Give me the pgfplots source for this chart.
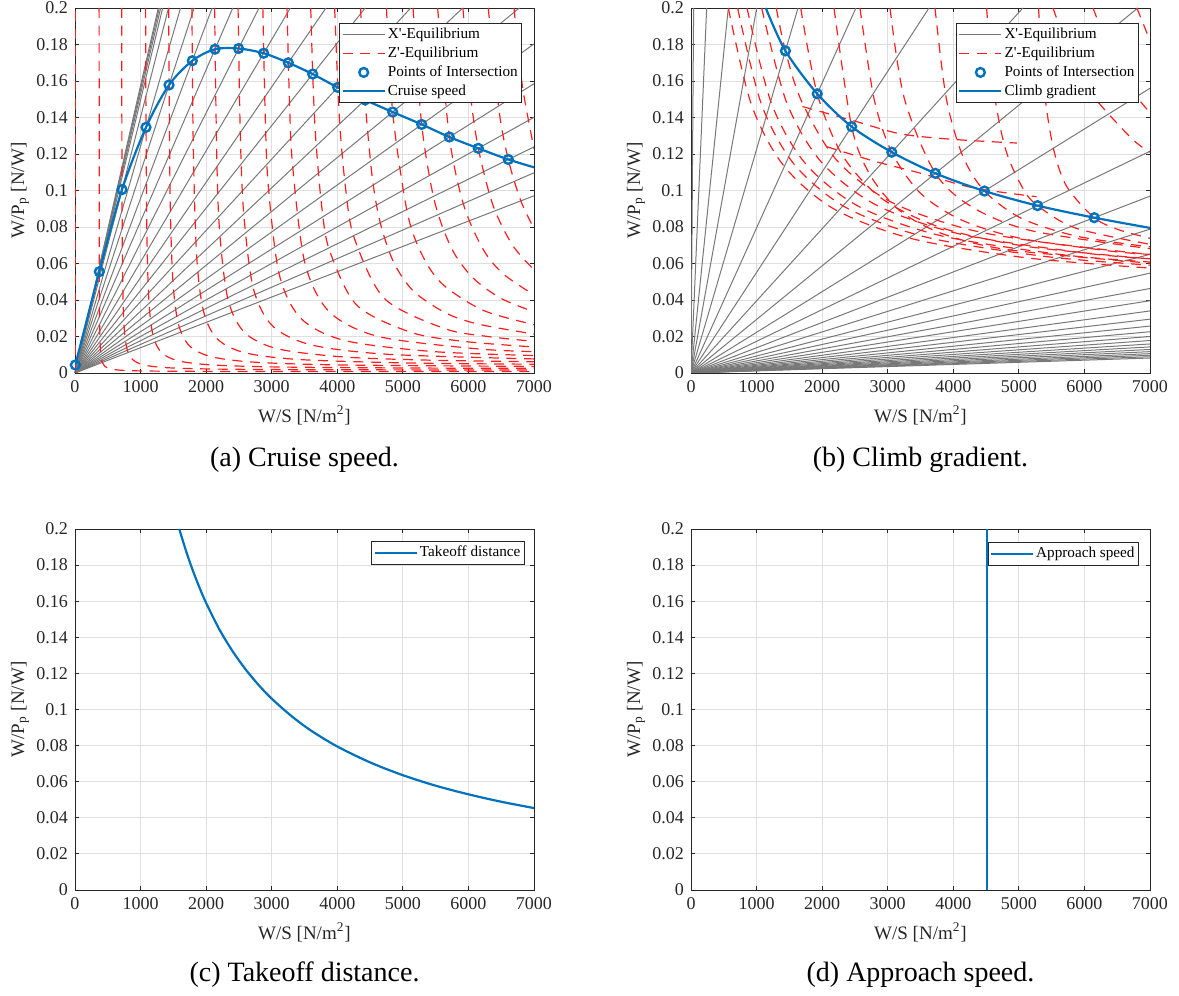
\documentclass[border=0pt]{standalone}
\usepackage{fontspec}
\setmainfont{Liberation Serif}
\usepackage{pgfplots}
\pgfplotsset{compat=1.18}

\definecolor{mblue}{RGB}{0,114,189}
\definecolor{axgray}{RGB}{38,38,38}
\definecolor{gridc}{RGB}{223,223,223}
\definecolor{xeq}{RGB}{120,120,120}
\definecolor{zeq}{RGB}{255,30,30}

\pgfplotsset{
  matlab/.style={
    scale only axis, width=229.5pt, anchor=south west,
    xmin=0, xmax=7000, ymin=0, ymax=0.2,
    xtick={0,1000,2000,3000,4000,5000,6000,7000},
    ytick={0,0.02,0.04,0.06,0.08,0.1,0.12,0.14,0.16,0.18,0.2},
    grid=major, major grid style={gridc, line width=0.45pt},
    axis line style={axgray, line width=0.45pt},
    tick style={axgray, line width=0.45pt}, major tick length=2.2pt,
    tick align=inside, xtick pos=both, ytick pos=both,
    ticklabel style={font=\fontsize{9}{10}\selectfont, text=axgray},
    /pgf/number format/assume math mode=true,
    xticklabel style={/pgf/number format/1000 sep={}},
    yticklabel style={/pgf/number format/fixed, /pgf/number format/precision=2},
    scaled ticks=false,
    label style={font=\fontsize{9.5}{11}\selectfont, text=axgray},
    xlabel={W/S [N/m\textsuperscript{2}]},
    ylabel={W/P\textsubscript{p} [N/W]},
    ylabel style={at={(axis description cs:-0.12,0.5)}, anchor=center},
    legend style={font=\fontsize{7.6}{9}\selectfont, draw=axgray, line width=0.45pt,
      fill=white, anchor=north east, inner xsep=1pt, inner ysep=1pt,
      nodes={inner xsep=1pt, inner ysep=1.1pt, text height=5.6pt, text depth=1.6pt}},
    legend cell align=left,
    legend image code/.code={\draw[mark repeat=2,mark phase=2,##1] plot coordinates {(0pt,0pt) (10.5pt,0pt) (21pt,0pt)};},
  },
  xe/.style={xeq, line width=0.5pt, forget plot},
  ze/.style={zeq, line width=0.6pt, dash pattern=on 5pt off 3.8pt, forget plot},
  pts/.style={mblue, only marks, mark=o, mark size=2.2pt, line width=1.2pt, forget plot},
  bl/.style={mblue, line width=1.1pt, forget plot},
}

\begin{document}
\begin{tikzpicture}
\useasboundingbox (0,0) rectangle (589.5pt,498pt);

% ---------------- (a) cruise speed ----------------
\begin{axis}[matlab, height=182.5pt, at={(37.5pt,311.5pt)},
  legend style={at={(rel axis cs:0.9745,0.959)}}]
% X'-equilibrium lines through the origin
\addplot[xe] coordinates {(0,0) (1270,0.2)};
\addplot[xe] coordinates {(0,0) (1286,0.2)};
\addplot[xe] coordinates {(0,0) (1307,0.2)};
\addplot[xe] coordinates {(0,0) (1337,0.2)};
\addplot[xe] coordinates {(0,0) (1426.8,0.2)};
\addplot[xe] coordinates {(0,0) (1609.2,0.2)};
\addplot[xe] coordinates {(0,0) (1817.5,0.2)};
\addplot[xe] coordinates {(0,0) (2091.2,0.2)};
\addplot[xe] coordinates {(0,0) (2407,0.2)};
\addplot[xe] coordinates {(0,0) (2806.5,0.2)};
\addplot[xe] coordinates {(0,0) (3284.2,0.2)};
\addplot[xe] coordinates {(0,0) (3827,0.2)};
\addplot[xe] coordinates {(0,0) (4426,0.2)};
\addplot[xe] coordinates {(0,0) (5119.5,0.2)};
\addplot[xe] coordinates {(0,0) (5913,0.2)};
\addplot[xe] coordinates {(0,0) (6776,0.2)};
\addplot[xe] coordinates {(0,0) (7000,0.1803)};
\addplot[xe] coordinates {(0,0) (7000,0.1585)};
\addplot[xe] coordinates {(0,0) (7000,0.1401)};
\addplot[xe] coordinates {(0,0) (7000,0.1239)};
\addplot[xe] coordinates {(0,0) (7000,0.1097)};
\addplot[xe] coordinates {(0,0) (7000,0.0971)};
% Z'-equilibrium curves
\addplot[ze] coordinates {(12,0) (12,0.2)};
\addplot[ze, smooth] coordinates {(367.5,0.2) (371.6,0.0499) (376.9,0.02536) (387.6,0.01304) (409,0.00688) (451.9,0.0038) (537,0.00226) (709,0.00149) (1052,0.0011) (1737,0.00091) (3108,0.00082) (7000,0.00076)};
\addplot[ze, smooth] coordinates {(711.8,0.2) (717.2,0.0984) (727.7,0.0499) (748.8,0.02561) (790.9,0.01353) (875,0.00749) (1043.7,0.00446) (1379.7,0.00295) (2052.7,0.0022) (3399.7,0.00182) (7000,0.0016)};
\addplot[ze, smooth] coordinates {(1077.2,0.2) (1081.4,0.1478) (1097.2,0.075) (1128.9,0.03852) (1192.2,0.02034) (1318.7,0.01125) (1571.6,0.00671) (2077.6,0.00443) (3090.6,0.0033) (5115.6,0.00273) (7000,0.00255)};
\addplot[ze, smooth] coordinates {(1428.4,0.2) (1449.8,0.0994) (1491.8,0.05115) (1575.8,0.02701) (1743.8,0.01495) (2079.8,0.00891) (2751.8,0.0059) (4095.8,0.00439) (7000,0.0036)};
\addplot[ze, smooth] coordinates {(1783.5,0.2) (1803.8,0.1239) (1856.4,0.06365) (1961.4,0.03362) (2170.4,0.01865) (2589.4,0.01112) (3427.4,0.00736) (5103.4,0.00548) (7000,0.0048)};
\addplot[ze, smooth] coordinates {(2129,0.2) (2163,0.1168) (2208,0.07631) (2333,0.04032) (2583,0.02232) (3083,0.01332) (4083,0.00882) (5383,0.00705) (7000,0.00615)};
\addplot[ze, smooth] coordinates {(2487,0.2) (2519.3,0.1336) (2570.3,0.08872) (2716.3,0.04688) (3007.3,0.026) (3590.3,0.01552) (4757.3,0.01028) (7000,0.00771)};
\addplot[ze, smooth] coordinates {(2864.9,0.2) (2902.4,0.1393) (2949.4,0.10173) (3116.4,0.05375) (3450.4,0.02975) (4118.4,0.01776) (5454.4,0.01176) (7000,0.00956)};
\addplot[ze, smooth] coordinates {(3233.8,0.2) (3269,0.1513) (3317,0.11433) (3505,0.06041) (3880,0.03348) (4632,0.01997) (6135,0.01323) (7000,0.01172)};
\addplot[ze, smooth] coordinates {(3595,0.2) (3630.6,0.1584) (3673.6,0.1272) (3765.6,0.0904) (3882.6,0.06704) (4298.6,0.03715) (5132.6,0.02217) (5965.6,0.01718) (7000,0.01426)};
\addplot[ze, smooth] coordinates {(3960.1,0.2) (4032.3,0.13946) (4133.3,0.0992) (4261.3,0.07369) (4719.3,0.0408) (5634.3,0.02437) (6303.3,0.01997) (7000,0.01734)};
\addplot[ze, smooth] coordinates {(4355.8,0.2) (4417.6,0.15267) (4537.6,0.106) (4667.6,0.08066) (4867.6,0.0601) (5168.6,0.04461) (5667.6,0.03265) (6169.6,0.02663) (7000,0.02135)};
\addplot[ze, smooth] coordinates {(4750.2,0.2) (4847.9,0.1418) (5070.9,0.08741) (5307.9,0.0637) (5613.9,0.04839) (6227.9,0.03429) (7000,0.0265)};
\addplot[ze, smooth] coordinates {(5155.5,0.2) (5286.7,0.13629) (5481.7,0.09429) (5745.7,0.0681) (6067.7,0.05219) (6495.7,0.04092) (7000,0.03353)};
\addplot[ze, smooth] coordinates {(5530.8,0.2) (5709,0.1293) (5932.1,0.09152) (6232.1,0.06731) (6532.1,0.05427) (7000,0.04276)};
\addplot[ze, smooth] coordinates {(5916.2,0.2) (6025.4,0.1543) (6151,0.1231) (6375.4,0.09181) (6675.4,0.06991) (7000,0.05661)};
\addplot[ze, smooth] coordinates {(6302.4,0.2) (6466.7,0.1439) (6608,0.117) (6796.7,0.09454) (7000,0.07909)};
\addplot[ze, smooth] coordinates {(6695.9,0.2) (6762,0.1753) (6842,0.1529) (7000,0.1229)};
% intersection points and the resulting cruise speed line
\addplot[pts] coordinates {(5,0.0044) (371,0.0555) (717,0.1005) (1083,0.1346) (1434,0.1578) (1789,0.1711) (2135,0.1774) (2495,0.1778) (2877,0.1752) (3253,0.17) (3625,0.1638) (4006,0.1565) (4423,0.1496) (4845,0.143) (5287,0.1362) (5709,0.1293) (6151,0.1231) (6608,0.117)};
\addplot[bl, smooth] coordinates {(5,0.0044) (371,0.0555) (717,0.1005) (1083,0.1346) (1434,0.1578) (1789,0.1711) (2135,0.1774) (2495,0.1778) (2877,0.1752) (3253,0.17) (3625,0.1638) (4006,0.1565) (4423,0.1496) (4845,0.143) (5287,0.1362) (5709,0.1293) (6151,0.1231) (6608,0.117) (7000,0.1127)};
\addlegendimage{xeq, line width=0.5pt}
\addlegendentry{X\textquotesingle-Equilibrium}
\addlegendimage{zeq, line width=0.6pt, dash pattern=on 5pt off 3.8pt}
\addlegendentry{Z\textquotesingle-Equilibrium}
\addlegendimage{mblue, only marks, mark=o, mark size=2.2pt, line width=1.2pt}
\addlegendentry{Points of Intersection}
\addlegendimage{mblue, line width=1.1pt}
\addlegendentry{Cruise speed}
\end{axis}

% ---------------- (b) climb gradient ----------------
\begin{axis}[matlab, height=182.5pt, at={(345.5pt,311.5pt)},
  legend style={at={(rel axis cs:0.976,0.959)}}]
\addplot[xe] coordinates {(0,0) (40,0.2)};
\addplot[xe] coordinates {(0,0) (239,0.2)};
\addplot[xe] coordinates {(0,0) (569,0.2)};
\addplot[xe] coordinates {(0,0) (1002,0.2)};
\addplot[xe] coordinates {(0,0) (1632,0.2)};
\addplot[xe] coordinates {(0,0) (2516,0.2)};
\addplot[xe] coordinates {(0,0) (3630,0.2)};
\addplot[xe] coordinates {(0,0) (5061,0.2)};
\addplot[xe] coordinates {(0,0) (6814,0.2)};
\addplot[xe] coordinates {(0,0) (7000,0.156)};
\addplot[xe] coordinates {(0,0) (7000,0.1215)};
\addplot[xe] coordinates {(0,0) (7000,0.0969)};
\addplot[xe] coordinates {(0,0) (7000,0.0788)};
\addplot[xe] coordinates {(0,0) (7000,0.065)};
\addplot[xe] coordinates {(0,0) (7000,0.0547)};
\addplot[xe] coordinates {(0,0) (7000,0.0463)};
\addplot[xe] coordinates {(0,0) (7000,0.0396)};
\addplot[xe] coordinates {(0,0) (7000,0.034)};
\addplot[xe] coordinates {(0,0) (7000,0.0295)};
\addplot[xe] coordinates {(0,0) (7000,0.0257)};
\addplot[xe] coordinates {(0,0) (7000,0.0226)};
\addplot[xe] coordinates {(0,0) (7000,0.02)};
\addplot[xe] coordinates {(0,0) (7000,0.0178)};
\addplot[xe] coordinates {(0,0) (7000,0.0159)};
\addplot[xe] coordinates {(0,0) (7000,0.0143)};
\addplot[xe] coordinates {(0,0) (7000,0.0129)};
\addplot[xe] coordinates {(0,0) (7000,0.0117)};
\addplot[xe] coordinates {(0,0) (7000,0.0106)};
\addplot[xe] coordinates {(0,0) (7000,0.0097)};
\addplot[xe] coordinates {(0,0) (7000,0.0089)};
\addplot[xe] coordinates {(0,0) (7000,0.0082)};
% Z'-equilibrium curves
\addplot[ze, smooth] coordinates {(569,0.2) (919,0.1473) (1409,0.1138) (2179,0.0899) (3369,0.0736) (5119,0.0631) (7000,0.0575)};
\addplot[ze, smooth] coordinates {(711,0.2) (1071,0.1476) (1575,0.1143) (2367,0.0906) (3591,0.0744) (5391,0.0639) (7000,0.0591)};
\addplot[ze, smooth] coordinates {(854,0.2) (1224,0.148) (1742,0.1149) (2556,0.0913) (3814,0.0752) (5664,0.0648) (7000,0.0608)};
\addplot[ze, smooth] coordinates {(1078,0.2) (1458,0.1483) (1990,0.1155) (2826,0.092) (4118,0.076) (6018,0.0657) (7000,0.0626)};
\addplot[ze, smooth] coordinates {(1300,0.2) (1440,0.1765) (1686.7,0.1489) (2226.7,0.1164) (3076.7,0.0932) (4396.7,0.0773) (6326.7,0.0671) (7000,0.065)};
\addplot[ze, smooth] coordinates {(1673,0.2) (1925,0.153) (2310,0.1193) (2910,0.0956) (3810,0.0797) (5110,0.0694) (7000,0.0625)};
\addplot[ze, smooth] coordinates {(2181,0.2) (2450,0.135) (2729,0.1087) (3179,0.0891) (3829,0.0764) (4829,0.0676) (7000,0.0602)};
\addplot[ze, smooth] coordinates {(2577,0.2) (2793.4,0.15) (3062,0.121) (3503.4,0.0984) (4153.4,0.0834) (5153.4,0.0729) (7000,0.0649)};
\addplot[ze, smooth] coordinates {(3035,0.2) (3252,0.1506) (3727,0.1094) (4312,0.0904) (5212,0.0778) (7000,0.0681)};
\addplot[ze, smooth] coordinates {(3721,0.2) (3892.5,0.1506) (4142.5,0.1191) (4475,0.0997) (5042.5,0.0847) (5892.5,0.0749) (7000,0.0691)};
\addplot[ze, smooth] coordinates {(4507.8,0.2) (4626,0.1533) (4806,0.1215) (5066,0.1009) (5285,0.0917) (5866,0.0794) (7000,0.0705)};
\addplot[ze, smooth] coordinates {(5300,0.2) (5394.3,0.1529) (5534.3,0.1219) (5734.3,0.1019) (6150,0.0851) (6514.3,0.0786) (7000,0.0738)};
\addplot[ze, smooth] coordinates {(5520,0.2) (5820,0.1714) (6120,0.1523) (6720,0.1285) (7000,0.121)};
\addplot[ze, smooth] coordinates {(6130,0.2) (6455,0.1714) (6780,0.1523) (7000,0.1427)};
\addplot[ze] coordinates {(6800,0.2) (7000,0.1821)};
\addplot[ze, smooth] coordinates {(1700,0.146) (2500,0.138) (3200,0.131) (4000,0.128) (4970,0.126)};
\addplot[ze, smooth] coordinates {(2070,0.124) (2800,0.116) (3500,0.1095) (4300,0.1015) (5270,0.0966)};
% intersection points and the resulting climb gradient line
\addplot[pts] coordinates {(1440,0.1765) (1925,0.153) (2450,0.135) (3062,0.121) (3727,0.1094) (4475,0.0997) (5285,0.0917) (6150,0.0851)};
\addplot[bl, smooth] coordinates {(1140,0.2) (1440,0.1765) (1925,0.153) (2450,0.135) (3062,0.121) (3727,0.1094) (4475,0.0997) (5285,0.0917) (6150,0.0851) (7000,0.0795)};
\addlegendimage{xeq, line width=0.5pt}
\addlegendentry{X\textquotesingle-Equilibrium}
\addlegendimage{zeq, line width=0.6pt, dash pattern=on 5pt off 3.8pt}
\addlegendentry{Z\textquotesingle-Equilibrium}
\addlegendimage{mblue, only marks, mark=o, mark size=2.2pt, line width=1.2pt}
\addlegendentry{Points of Intersection}
\addlegendimage{mblue, line width=1.1pt}
\addlegendentry{Climb gradient}
\end{axis}

% ---------------- (c) takeoff distance ----------------
\begin{axis}[matlab, height=180.5pt, at={(37.5pt,53pt)},
  legend style={at={(rel axis cs:0.980,0.967)}}]
\addplot[mblue, line width=1.1pt, smooth] coordinates {(1590,0.2) (1700,0.1871) (1800,0.1767) (1900,0.1674) (2000,0.159) (2200,0.1445) (2400,0.1325) (2600,0.1223) (2800,0.1136) (3000,0.106) (3300,0.0964) (3600,0.0883) (4000,0.0795) (4500,0.0707) (5000,0.0636) (5500,0.0578) (6000,0.053) (6500,0.0489) (7000,0.0454)};
\addlegendentry{Takeoff distance}
\end{axis}

% ---------------- (d) approach speed ----------------
\begin{axis}[matlab, height=180.5pt, at={(345.5pt,53pt)},
  legend style={at={(rel axis cs:0.976,0.964)}}]
\addplot[mblue, line width=1.1pt] coordinates {(4515,0) (4515,0.2)};
\addlegendentry{Approach speed}
\end{axis}

% sub-figure captions
\node[anchor=base, font=\fontsize{14}{16}\selectfont] at (152.25pt,264.5pt) {(a) Cruise speed.};
\node[anchor=base, font=\fontsize{14}{16}\selectfont] at (460.25pt,264.5pt) {(b) Climb gradient.};
\node[anchor=base, font=\fontsize{14}{16}\selectfont] at (152.25pt,7pt) {(c) Takeoff distance.};
\node[anchor=base, font=\fontsize{14}{16}\selectfont] at (460.25pt,7pt) {(d) Approach speed.};
\end{tikzpicture}
\end{document}
